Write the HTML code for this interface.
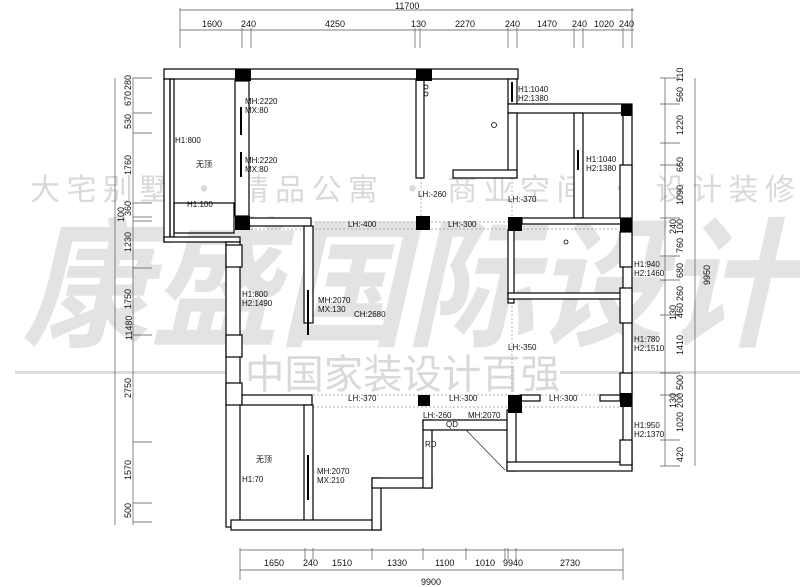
<!DOCTYPE html>
<html><head><meta charset="utf-8"><style>
html,body{margin:0;padding:0;background:#fff;width:800px;height:587px;overflow:hidden}
svg{display:block}
.w{fill:#fff;stroke:#000;stroke-width:1.2}
.c{fill:#000}
.t{font-family:"Liberation Sans",sans-serif;font-size:8px;fill:#111}
.d{font-family:"Liberation Sans",sans-serif;font-size:9px;fill:#111}
.dl{stroke:#555;stroke-width:0.7;fill:none}
.dot{stroke:#999;stroke-width:0.7;stroke-dasharray:2 2;fill:none}
.wm{font-family:"Noto Sans CJK SC","WenQuanYi Zen Hei",sans-serif;fill:#d9d9d9}
</style></head><body>
<svg width="800" height="587" viewBox="0 0 800 587" xmlns="http://www.w3.org/2000/svg">
<!-- watermark -->
<g class="wm">
<text x="30" y="200" font-size="30" textLength="765" lengthAdjust="spacing">大宅别墅 · 精品公寓 · 商业空间 · 设计装修</text>
<text x="22" y="335" font-size="140" font-weight="bold" font-style="italic" fill="#e3e3e3" textLength="770" lengthAdjust="spacingAndGlyphs">康盛国际设计</text>
<text x="245" y="388" font-size="40" textLength="315" lengthAdjust="spacingAndGlyphs">中国家装设计百强</text>
</g>
<rect x="15" y="371" width="225" height="3" fill="#dcdcdc"/>
<rect x="560" y="371" width="240" height="3" fill="#dcdcdc"/>

<!-- top dims -->
<g class="dl">
<line x1="180" y1="10" x2="634" y2="10"/>
<line x1="180" y1="30" x2="634" y2="30"/>
<line x1="180" y1="8" x2="180" y2="48"/><line x1="242" y1="28" x2="242" y2="48"/><line x1="251" y1="28" x2="251" y2="48"/>
<line x1="415" y1="28" x2="415" y2="48"/><line x1="420" y1="28" x2="420" y2="48"/><line x1="508" y1="28" x2="508" y2="48"/>
<line x1="517" y1="28" x2="517" y2="48"/><line x1="574" y1="28" x2="574" y2="48"/><line x1="583" y1="28" x2="583" y2="48"/>
<line x1="623" y1="28" x2="623" y2="48"/><line x1="632" y1="8" x2="632" y2="48"/>
</g>
<text class="d" x="395" y="9">11700</text>
<g class="d">
<text x="202" y="27">1600</text><text x="241" y="27">240</text><text x="325" y="27">4250</text><text x="411" y="27">130</text>
<text x="455" y="27">2270</text><text x="505" y="27">240</text><text x="537" y="27">1470</text><text x="572" y="27">240</text>
<text x="594" y="27">1020</text><text x="619" y="27">240</text>
</g>

<!-- bottom dims -->
<g class="dl">
<line x1="240" y1="570" x2="623" y2="570"/>
<line x1="240" y1="550" x2="623" y2="550"/>
<line x1="240" y1="548" x2="240" y2="580"/><line x1="305" y1="548" x2="305" y2="560"/><line x1="313" y1="548" x2="313" y2="560"/>
<line x1="372" y1="548" x2="372" y2="560"/><line x1="423" y1="548" x2="423" y2="560"/><line x1="466" y1="548" x2="466" y2="560"/>
<line x1="505" y1="548" x2="505" y2="560"/><line x1="508" y1="548" x2="508" y2="560"/><line x1="516" y1="548" x2="516" y2="560"/>
<line x1="623" y1="548" x2="623" y2="580"/>
</g>
<g class="d">
<text x="264" y="566">1650</text><text x="303" y="566">240</text><text x="332" y="566">1510</text><text x="387" y="566">1330</text>
<text x="435" y="566">1100</text><text x="475" y="566">1010</text><text x="503" y="566">9940</text><text x="560" y="566">2730</text>
<text x="421" y="585">9900</text>
</g>

<!-- left dims -->
<g class="dl">
<line x1="115" y1="78" x2="115" y2="525"/>
<line x1="133" y1="78" x2="133" y2="525"/>
<line x1="133" y1="78" x2="152" y2="78"/><line x1="133" y1="113" x2="152" y2="113"/><line x1="133" y1="133" x2="152" y2="133"/>
<line x1="133" y1="203" x2="152" y2="203"/><line x1="133" y1="217" x2="152" y2="217"/><line x1="133" y1="221" x2="152" y2="221"/>
<line x1="133" y1="268" x2="152" y2="268"/><line x1="133" y1="335" x2="152" y2="335"/><line x1="133" y1="442" x2="152" y2="442"/>
<line x1="133" y1="503" x2="152" y2="503"/><line x1="133" y1="522" x2="152" y2="522"/>
</g>
<g class="d">
<text transform="translate(132,340) rotate(-90)">11480</text>
<text transform="translate(131,90) rotate(-90)">280</text>
<text transform="translate(131,106) rotate(-90)">670</text>
<text transform="translate(131,129) rotate(-90)">530</text>
<text transform="translate(131,175) rotate(-90)">1760</text>
<text transform="translate(131,216) rotate(-90)">360</text>
<text transform="translate(124,222) rotate(-90)">100</text>
<text transform="translate(131,252) rotate(-90)">1230</text>
<text transform="translate(131,309) rotate(-90)">1750</text>
<text transform="translate(131,398) rotate(-90)">2750</text>
<text transform="translate(131,480) rotate(-90)">1570</text>
<text transform="translate(131,518) rotate(-90)">500</text>
</g>

<!-- right dims -->
<g class="dl">
<line x1="665" y1="78" x2="665" y2="466"/>
<line x1="695" y1="78" x2="695" y2="466"/>
<line x1="660" y1="78" x2="680" y2="78"/><line x1="660" y1="104" x2="680" y2="104"/><line x1="660" y1="143" x2="680" y2="143"/>
<line x1="660" y1="165" x2="680" y2="165"/><line x1="660" y1="218" x2="680" y2="218"/><line x1="660" y1="256" x2="680" y2="256"/>
<line x1="660" y1="280" x2="680" y2="280"/><line x1="660" y1="315" x2="680" y2="315"/><line x1="660" y1="373" x2="680" y2="373"/>
<line x1="660" y1="395" x2="680" y2="395"/><line x1="660" y1="440" x2="680" y2="440"/><line x1="660" y1="466" x2="680" y2="466"/>
</g>
<g class="d">
<text transform="translate(710,285) rotate(-90)">9950</text>
<text transform="translate(683,82) rotate(-90)">110</text>
<text transform="translate(683,102) rotate(-90)">560</text>
<text transform="translate(683,135) rotate(-90)">1220</text>
<text transform="translate(683,172) rotate(-90)">660</text>
<text transform="translate(683,205) rotate(-90)">1090</text>
<text transform="translate(676,234) rotate(-90)">240</text>
<text transform="translate(683,234) rotate(-90)">100</text>
<text transform="translate(683,253) rotate(-90)">760</text>
<text transform="translate(683,278) rotate(-90)">680</text>
<text transform="translate(683,301) rotate(-90)">260</text>
<text transform="translate(676,320) rotate(-90)">130</text>
<text transform="translate(683,318) rotate(-90)">460</text>
<text transform="translate(683,355) rotate(-90)">1410</text>
<text transform="translate(683,390) rotate(-90)">500</text>
<text transform="translate(676,408) rotate(-90)">130</text>
<text transform="translate(683,408) rotate(-90)">200</text>
<text transform="translate(683,432) rotate(-90)">1020</text>
<text transform="translate(683,462) rotate(-90)">420</text>
</g>

<!-- dotted -->
<g class="dot">
<line x1="251" y1="222" x2="622" y2="222"/><line x1="251" y1="229" x2="622" y2="229"/>
<line x1="313" y1="395" x2="622" y2="395"/><line x1="313" y1="407" x2="622" y2="407"/>
<line x1="421" y1="178" x2="421" y2="216"/><line x1="512" y1="178" x2="512" y2="216"/>
<line x1="512" y1="230" x2="512" y2="395"/>
</g>

<!-- walls -->
<g class="w">
<rect x="164" y="69" width="354" height="10"/>
<rect x="164" y="79" width="6" height="163"/>
<rect x="170" y="79" width="4" height="158" fill="none"/>
<rect x="164" y="237" width="76" height="5"/>
<rect x="174" y="203" width="60" height="30" fill="none"/>
<rect x="235" y="81" width="14" height="135"/>
<rect x="508" y="79" width="9" height="25"/>
<rect x="508" y="104" width="124" height="9"/>
<rect x="508" y="113" width="9" height="65"/>
<rect x="416" y="79" width="8" height="99"/>
<rect x="453" y="170" width="64" height="8"/>
<rect x="574" y="113" width="9" height="105"/>
<rect x="623" y="113" width="9" height="357"/>
<rect x="522" y="218" width="101" height="6"/>
<rect x="249" y="218" width="62" height="8"/>
<rect x="304" y="226" width="9" height="97"/>
<rect x="226" y="242" width="14" height="285"/>
<rect x="226" y="245" width="16" height="22"/>
<rect x="226" y="335" width="16" height="22"/>
<rect x="226" y="383" width="16" height="22"/>
<rect x="242" y="395" width="70" height="10"/>
<rect x="304" y="405" width="9" height="120"/>
<rect x="231" y="520" width="150" height="10"/>
<rect x="372" y="478" width="9" height="52"/>
<rect x="372" y="478" width="60" height="10"/>
<rect x="423" y="420" width="9" height="68"/>
<rect x="423" y="420" width="85" height="10"/>
<rect x="507" y="410" width="9" height="61"/>
<rect x="507" y="462" width="125" height="9"/>
<rect x="508" y="230" width="6" height="73"/>
<rect x="508" y="293" width="115" height="6"/>
<rect x="520" y="395" width="20" height="6"/>
<rect x="600" y="395" width="20" height="6"/>
<rect x="620" y="165" width="12" height="53"/>
<rect x="620" y="232" width="12" height="35"/>
<rect x="620" y="288" width="12" height="35"/>
<rect x="620" y="373" width="12" height="22"/>
<rect x="620" y="440" width="12" height="25"/>
</g>
<!-- columns -->
<g class="c">
<rect x="235" y="69" width="16" height="12"/>
<rect x="416" y="69" width="16" height="12"/>
<rect x="621" y="104" width="11" height="12"/>
<rect x="235" y="216" width="15" height="14"/>
<rect x="416" y="216" width="14" height="14"/>
<rect x="508" y="217" width="14" height="14"/>
<rect x="620" y="218" width="12" height="14"/>
<rect x="418" y="395" width="12" height="11"/>
<rect x="508" y="395" width="14" height="18"/>
<rect x="620" y="393" width="12" height="14"/>
<rect x="240" y="107" width="2" height="28"/>
<rect x="240" y="152" width="2" height="25"/>
<rect x="307" y="290" width="2" height="45"/>
<rect x="307" y="455" width="2" height="45"/>
<rect x="511" y="82" width="2" height="20"/>
<rect x="577" y="150" width="2" height="20"/>
</g>
<line x1="466" y1="430" x2="505" y2="470" stroke="#333" stroke-width="0.8"/>
<circle cx="494" cy="125" r="2.5" fill="none" stroke="#000" stroke-width="0.8"/>
<circle cx="566" cy="242" r="2" fill="none" stroke="#000" stroke-width="0.8"/>
<circle cx="426" cy="87" r="2" fill="none" stroke="#000" stroke-width="0.8"/>
<circle cx="426" cy="94" r="2" fill="none" stroke="#000" stroke-width="0.8"/>

<!-- labels -->
<g class="t">
<text x="245" y="104">MH:2220</text><text x="245" y="113">MX:80</text>
<text x="245" y="163">MH:2220</text><text x="245" y="172">MX:80</text>
<text x="175" y="143">H1:800</text><text x="196" y="167">无顶</text><text x="187" y="207">H1:100</text>
<text x="518" y="92">H1:1040</text><text x="518" y="101">H2:1380</text>
<text x="586" y="162">H1:1040</text><text x="586" y="171">H2:1380</text>
<text x="418" y="197">LH:-260</text><text x="508" y="202">LH:-370</text>
<text x="348" y="227">LH:-400</text><text x="448" y="227">LH:-300</text>
<text x="242" y="297">H1:800</text><text x="242" y="306">H2:1490</text>
<text x="318" y="303">MH:2070</text><text x="318" y="312">MX:130</text>
<text x="354" y="317">CH:2680</text>
<text x="634" y="267">H1:940</text><text x="634" y="276">H2:1460</text>
<text x="634" y="342">H1:780</text><text x="634" y="351">H2:1510</text>
<text x="508" y="350">LH:-350</text>
<text x="348" y="401">LH:-370</text><text x="449" y="401">LH:-300</text><text x="549" y="401">LH:-300</text>
<text x="423" y="418">LH:-260</text><text x="468" y="418">MH:2070</text>
<text x="446" y="427">QD</text><text x="425" y="447">RD</text>
<text x="634" y="428">H1:950</text><text x="634" y="437">H2:1370</text>
<text x="256" y="462">无顶</text><text x="242" y="482">H1:70</text>
<text x="317" y="474">MH:2070</text><text x="317" y="483">MX:210</text>
</g>
</svg>
</body></html>
